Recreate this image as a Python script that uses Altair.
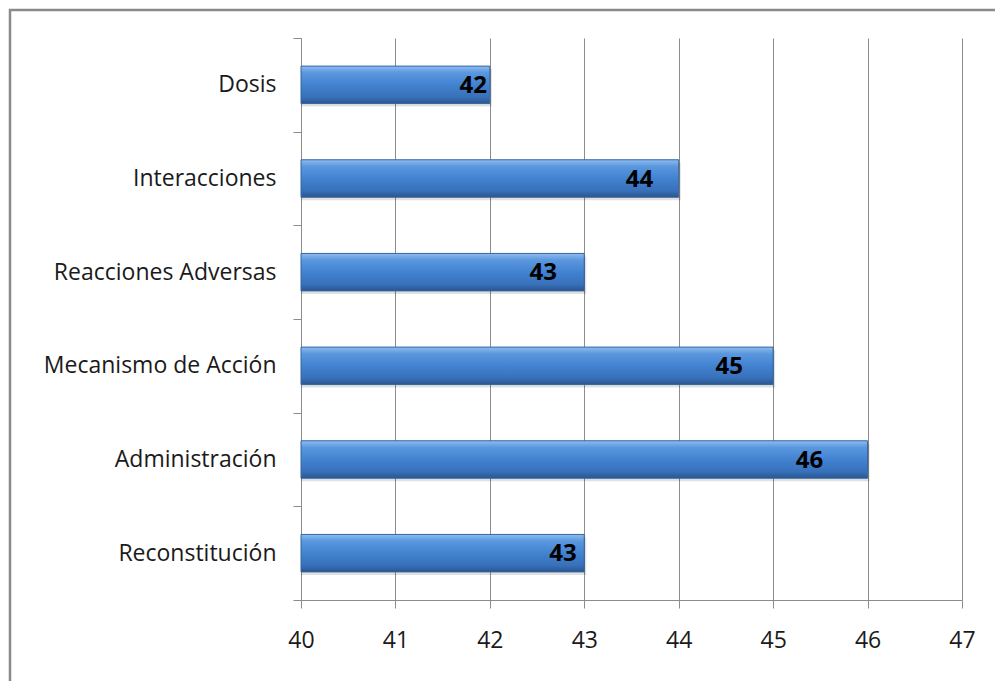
import altair as alt
import pandas as pd

categories = ["Dosis", "Interacciones", "Reacciones Adversas", "Mecanismo de Acción", "Administración", "Reconstitución"]
values = [42, 44, 43, 45, 46, 43]
# where each value label ends in axis units
label_end = [41.97, 43.73, 42.71, 44.68, 45.53, 42.92]
x_ticks = [40, 41, 42, 43, 44, 45, 46, 47]

df = pd.DataFrame({"categoria": categories, "valor": values, "pos": label_end})

FONT = "Open Sans"
GRAY = "#8c8c8c"

grad = alt.Gradient(
    gradient="linear",
    x1=0, x2=0, y1=0, y2=1,
    stops=[
        alt.GradientStop(color="#8ebcf0", offset=0),
        alt.GradientStop(color="#5a97de", offset=0.18),
        alt.GradientStop(color="#4282d0", offset=0.5),
        alt.GradientStop(color="#3871bb", offset=0.82),
        alt.GradientStop(color="#2a568f", offset=1),
    ],
)

y_enc = alt.Y(
    "categoria:N",
    sort=categories,
    title=None,
    scale=alt.Scale(paddingInner=0, paddingOuter=0),
    axis=alt.Axis(
        tickBand="extent",
        tickSize=8,
        tickColor=GRAY,
        domainColor=GRAY,
        labelPadding=17,
        labelFont=FONT,
        labelFontSize=23,
        labelLimit=400,
        labelColor="#1a1a1a",
        grid=False,
    ),
)

x_enc = alt.X(
    "valor:Q",
    title=None,
    scale=alt.Scale(domain=[40, 47], zero=False, nice=False),
    axis=alt.Axis(
        values=x_ticks,
        tickSize=8,
        tickColor=GRAY,
        domainColor=GRAY,
        gridColor=GRAY,
        grid=True,
        labelFlush=False,
        labelPadding=21,
        labelFont=FONT,
        labelFontSize=23,
        labelColor="#1a1a1a",
        format="d",
    ),
)

border = alt.Chart(pd.DataFrame({"a": [0]})).mark_rect(
    fill="transparent", stroke="#8a8a8a", strokeWidth=2.5
).encode(
    x=alt.value(-291), x2=alt.value(1010),
    y=alt.value(-28), y2=alt.value(700),
)

shadow = alt.Chart(df).mark_bar(
    color="#000000", opacity=0.12, height=alt.RelativeBandSize(0.4),
    xOffset=2, yOffset=3
).encode(
    y=alt.Y("categoria:N", sort=categories),
    x=alt.X("valor:Q"),
    x2=alt.datum(40),
)

bars = alt.Chart(df).mark_bar(
    color=grad, stroke="#34649f", strokeWidth=1, height=alt.RelativeBandSize(0.4)
).encode(
    y=y_enc,
    x=x_enc,
    x2=alt.datum(40),
)

labels = alt.Chart(df).mark_text(
    align="right", baseline="middle", dy=1,
    font=FONT, fontSize=24, fontWeight="bold", color="#000000"
).encode(
    y=alt.Y("categoria:N", sort=categories),
    x=alt.X("pos:Q"),
    text=alt.Text("valor:Q", format="d"),
)

chart = alt.layer(border, shadow, bars, labels).properties(
    width=661,
    height=562,
    padding={"left": 301, "top": 38, "right": 33, "bottom": 81},
    autosize=alt.AutoSizeParams(type="none"),
    background="white",
).configure_view(stroke=None)

chart.save("out.html", embed_options={"renderer": "svg", "actions": False})
